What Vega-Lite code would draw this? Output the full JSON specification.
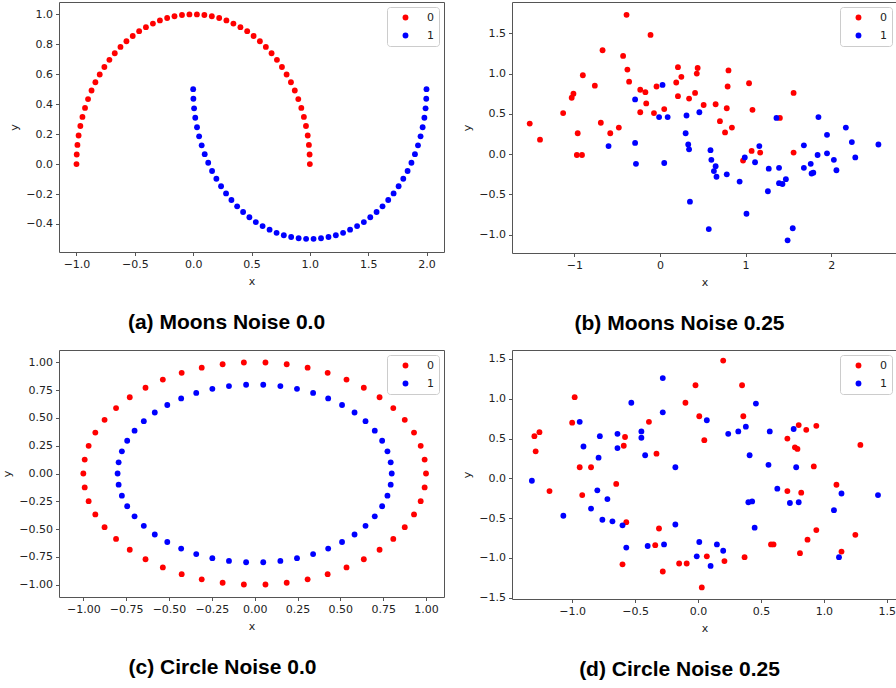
{
"$schema": "https://vega.github.io/schema/vega-lite/v6.json",
"background": "white",
"padding": {"left": 1, "top": 1, "right": 0, "bottom": 0},
"config": {
  "view": {"stroke": "#555", "strokeWidth": 1},
  "font": "DejaVu Sans",
  "axis": {"grid": false, "domain": false, "tickColor": "#555", "tickSize": 3.5, "labelFontSize": 11, "labelColor": "#222", "labelFont": "DejaVu Sans", "titleFont": "DejaVu Sans", "titleFontSize": 11, "titleFontWeight": "normal", "titleColor": "#222", "labelPadding": 3},
  "axisY": {"titlePadding": 6},
  "axisX": {"titlePadding": 6},
  "legend": {"orient": "top-right", "offset": 5, "padding": 5, "symbolSize": 34, "symbolType": "circle", "symbolStrokeWidth": 0, "labelFontSize": 11, "labelFont": "DejaVu Sans", "labelColor": "#222", "labelOffset": 16, "symbolOffset": 8, "rowPadding": 6, "strokeColor": "#ccc", "fillColor": "white", "cornerRadius": 3},
  "title": {"font": "Liberation Sans", "fontSize": 21, "fontWeight": "bold", "color": "#000", "orient": "bottom", "anchor": "middle", "offset": 25}
},
"datasets": {
"moons0": [
{"x":1,"y":0,"c":"0"},{"x":0.998,"y":0.064,"c":"0"},{"x":0.992,"y":0.128,"c":"0"},{"x":0.982,"y":0.191,"c":"0"},{"x":0.967,"y":0.254,"c":"0"},{"x":0.949,"y":0.315,"c":"0"},{"x":0.927,"y":0.375,"c":"0"},{"x":0.901,"y":0.434,"c":"0"},{"x":0.871,"y":0.491,"c":"0"},{"x":0.838,"y":0.546,"c":"0"},{"x":0.801,"y":0.598,"c":"0"},{"x":0.761,"y":0.648,"c":"0"},{"x":0.718,"y":0.696,"c":"0"},{"x":0.672,"y":0.740,"c":"0"},{"x":0.623,"y":0.782,"c":"0"},{"x":0.572,"y":0.820,"c":"0"},{"x":0.518,"y":0.855,"c":"0"},{"x":0.463,"y":0.887,"c":"0"},{"x":0.405,"y":0.914,"c":"0"},{"x":0.345,"y":0.938,"c":"0"},{"x":0.285,"y":0.959,"c":"0"},{"x":0.223,"y":0.975,"c":"0"},{"x":0.160,"y":0.987,"c":"0"},{"x":0.096,"y":0.995,"c":"0"},{"x":0.032,"y":0.999,"c":"0"},
{"x":-0.032,"y":0.999,"c":"0"},{"x":-0.096,"y":0.995,"c":"0"},{"x":-0.160,"y":0.987,"c":"0"},{"x":-0.223,"y":0.975,"c":"0"},{"x":-0.285,"y":0.959,"c":"0"},{"x":-0.345,"y":0.938,"c":"0"},{"x":-0.405,"y":0.914,"c":"0"},{"x":-0.463,"y":0.887,"c":"0"},{"x":-0.518,"y":0.855,"c":"0"},{"x":-0.572,"y":0.820,"c":"0"},{"x":-0.623,"y":0.782,"c":"0"},{"x":-0.672,"y":0.740,"c":"0"},{"x":-0.718,"y":0.696,"c":"0"},{"x":-0.761,"y":0.648,"c":"0"},{"x":-0.801,"y":0.598,"c":"0"},{"x":-0.838,"y":0.546,"c":"0"},{"x":-0.871,"y":0.491,"c":"0"},{"x":-0.901,"y":0.434,"c":"0"},{"x":-0.927,"y":0.375,"c":"0"},{"x":-0.949,"y":0.315,"c":"0"},{"x":-0.967,"y":0.254,"c":"0"},{"x":-0.982,"y":0.191,"c":"0"},{"x":-0.992,"y":0.128,"c":"0"},{"x":-0.998,"y":0.064,"c":"0"},{"x":-1,"y":0,"c":"0"},
{"x":0,"y":0.5,"c":"1"},{"x":0.002,"y":0.436,"c":"1"},{"x":0.008,"y":0.372,"c":"1"},{"x":0.018,"y":0.309,"c":"1"},{"x":0.033,"y":0.246,"c":"1"},{"x":0.051,"y":0.185,"c":"1"},{"x":0.073,"y":0.125,"c":"1"},{"x":0.099,"y":0.066,"c":"1"},{"x":0.129,"y":0.009,"c":"1"},{"x":0.162,"y":-0.046,"c":"1"},{"x":0.199,"y":-0.098,"c":"1"},{"x":0.239,"y":-0.148,"c":"1"},{"x":0.282,"y":-0.196,"c":"1"},{"x":0.328,"y":-0.240,"c":"1"},{"x":0.377,"y":-0.282,"c":"1"},{"x":0.428,"y":-0.320,"c":"1"},{"x":0.482,"y":-0.355,"c":"1"},{"x":0.537,"y":-0.387,"c":"1"},{"x":0.595,"y":-0.414,"c":"1"},{"x":0.655,"y":-0.438,"c":"1"},{"x":0.715,"y":-0.459,"c":"1"},{"x":0.777,"y":-0.475,"c":"1"},{"x":0.840,"y":-0.487,"c":"1"},{"x":0.904,"y":-0.495,"c":"1"},{"x":0.968,"y":-0.499,"c":"1"},
{"x":1.032,"y":-0.499,"c":"1"},{"x":1.096,"y":-0.495,"c":"1"},{"x":1.160,"y":-0.487,"c":"1"},{"x":1.223,"y":-0.475,"c":"1"},{"x":1.285,"y":-0.459,"c":"1"},{"x":1.345,"y":-0.438,"c":"1"},{"x":1.405,"y":-0.414,"c":"1"},{"x":1.463,"y":-0.387,"c":"1"},{"x":1.518,"y":-0.355,"c":"1"},{"x":1.572,"y":-0.320,"c":"1"},{"x":1.623,"y":-0.282,"c":"1"},{"x":1.672,"y":-0.240,"c":"1"},{"x":1.718,"y":-0.196,"c":"1"},{"x":1.761,"y":-0.148,"c":"1"},{"x":1.801,"y":-0.098,"c":"1"},{"x":1.838,"y":-0.046,"c":"1"},{"x":1.871,"y":0.009,"c":"1"},{"x":1.901,"y":0.066,"c":"1"},{"x":1.927,"y":0.125,"c":"1"},{"x":1.949,"y":0.185,"c":"1"},{"x":1.967,"y":0.246,"c":"1"},{"x":1.982,"y":0.309,"c":"1"},{"x":1.992,"y":0.372,"c":"1"},{"x":1.998,"y":0.436,"c":"1"},{"x":2,"y":0.5,"c":"1"}
],
"moons25": [
{"x":-0.39,"y":1.73,"c":"0"},{"x":-0.11,"y":1.48,"c":"0"},{"x":-0.67,"y":1.29,"c":"0"},{"x":-0.43,"y":1.22,"c":"0"},{"x":-0.90,"y":0.98,"c":"0"},{"x":-0.38,"y":1.05,"c":"0"},{"x":-0.36,"y":0.90,"c":"0"},{"x":-0.76,"y":0.85,"c":"0"},{"x":-1.01,"y":0.75,"c":"0"},{"x":-1.03,"y":0.70,"c":"0"},{"x":-0.23,"y":0.80,"c":"0"},{"x":-0.17,"y":0.77,"c":"0"},{"x":-0.04,"y":0.84,"c":"0"},{"x":-0.16,"y":0.63,"c":"0"},{"x":-0.23,"y":0.52,"c":"0"},{"x":-0.07,"y":0.51,"c":"0"},{"x":0.05,"y":0.56,"c":"0"},{"x":-1.13,"y":0.51,"c":"0"},{"x":-1.52,"y":0.38,"c":"0"},{"x":-0.69,"y":0.39,"c":"0"},{"x":-1.40,"y":0.18,"c":"0"},{"x":-0.96,"y":0.26,"c":"0"},{"x":-0.58,"y":0.26,"c":"0"},{"x":-0.48,"y":0.33,"c":"0"},{"x":-0.97,"y":-0.01,"c":"0"},{"x":-0.91,"y":-0.01,"c":"0"},{"x":0.21,"y":1.08,"c":"0"},{"x":0.44,"y":1.07,"c":"0"},{"x":0.43,"y":1.00,"c":"0"},{"x":0.25,"y":0.96,"c":"0"},{"x":0.19,"y":0.89,"c":"0"},{"x":0.21,"y":0.72,"c":"0"},{"x":0.34,"y":0.69,"c":"0"},{"x":0.41,"y":0.76,"c":"0"},{"x":0.51,"y":0.61,"c":"0"},{"x":0.65,"y":0.62,"c":"0"},{"x":0.80,"y":1.04,"c":"0"},{"x":0.79,"y":0.84,"c":"0"},{"x":0.78,"y":0.57,"c":"0"},{"x":0.70,"y":0.41,"c":"0"},{"x":0.84,"y":0.33,"c":"0"},{"x":0.76,"y":0.27,"c":"0"},{"x":1.04,"y":0.88,"c":"0"},{"x":1.08,"y":0.55,"c":"0"},{"x":1.40,"y":0.45,"c":"0"},{"x":1.56,"y":0.76,"c":"0"},{"x":1.07,"y":0.04,"c":"0"},{"x":1.17,"y":0.02,"c":"0"},{"x":0.97,"y":-0.08,"c":"0"},{"x":1.56,"y":0.02,"c":"0"},
{"x":0.03,"y":0.86,"c":"1"},{"x":-0.29,"y":0.68,"c":"1"},{"x":-0.01,"y":0.46,"c":"1"},{"x":0.09,"y":0.46,"c":"1"},{"x":0.31,"y":0.48,"c":"1"},{"x":0.46,"y":0.52,"c":"1"},{"x":-0.60,"y":0.10,"c":"1"},{"x":-0.29,"y":0.14,"c":"1"},{"x":-0.28,"y":-0.12,"c":"1"},{"x":0.05,"y":-0.11,"c":"1"},{"x":0.30,"y":0.26,"c":"1"},{"x":0.33,"y":0.12,"c":"1"},{"x":0.34,"y":0.06,"c":"1"},{"x":0.35,"y":-0.59,"c":"1"},{"x":0.59,"y":0.05,"c":"1"},{"x":0.60,"y":-0.07,"c":"1"},{"x":0.65,"y":-0.15,"c":"1"},{"x":0.63,"y":-0.21,"c":"1"},{"x":0.66,"y":-0.28,"c":"1"},{"x":0.78,"y":-0.25,"c":"1"},{"x":0.57,"y":-0.93,"c":"1"},{"x":0.93,"y":-0.34,"c":"1"},{"x":1.01,"y":-0.74,"c":"1"},{"x":0.99,"y":-0.04,"c":"1"},{"x":1.11,"y":-0.10,"c":"1"},{"x":1.16,"y":0.10,"c":"1"},{"x":1.27,"y":-0.18,"c":"1"},{"x":1.26,"y":-0.46,"c":"1"},{"x":1.36,"y":0.45,"c":"1"},{"x":1.39,"y":-0.17,"c":"1"},{"x":1.39,"y":-0.36,"c":"1"},{"x":1.43,"y":-0.37,"c":"1"},{"x":1.47,"y":-0.31,"c":"1"},{"x":1.49,"y":-1.07,"c":"1"},{"x":1.55,"y":-0.92,"c":"1"},{"x":1.68,"y":0.11,"c":"1"},{"x":1.68,"y":-0.17,"c":"1"},{"x":1.76,"y":-0.12,"c":"1"},{"x":1.77,"y":-0.24,"c":"1"},{"x":1.79,"y":-0.23,"c":"1"},{"x":1.84,"y":-0.01,"c":"1"},{"x":1.85,"y":0.46,"c":"1"},{"x":1.95,"y":0.24,"c":"1"},{"x":1.95,"y":0.01,"c":"1"},{"x":2.03,"y":-0.07,"c":"1"},{"x":2.06,"y":-0.20,"c":"1"},{"x":2.17,"y":0.33,"c":"1"},{"x":2.24,"y":0.15,"c":"1"},{"x":2.28,"y":-0.04,"c":"1"},{"x":2.55,"y":0.12,"c":"1"}
],
"circ0": [
{"x":1,"y":0,"c":"0"},{"x":0.992,"y":0.125,"c":"0"},{"x":0.969,"y":0.249,"c":"0"},{"x":0.930,"y":0.368,"c":"0"},{"x":0.876,"y":0.482,"c":"0"},{"x":0.809,"y":0.588,"c":"0"},{"x":0.729,"y":0.685,"c":"0"},{"x":0.637,"y":0.771,"c":"0"},{"x":0.536,"y":0.844,"c":"0"},{"x":0.426,"y":0.905,"c":"0"},{"x":0.309,"y":0.951,"c":"0"},{"x":0.187,"y":0.982,"c":"0"},{"x":0.063,"y":0.998,"c":"0"},
{"x":-0.063,"y":0.998,"c":"0"},{"x":-0.187,"y":0.982,"c":"0"},{"x":-0.309,"y":0.951,"c":"0"},{"x":-0.426,"y":0.905,"c":"0"},{"x":-0.536,"y":0.844,"c":"0"},{"x":-0.637,"y":0.771,"c":"0"},{"x":-0.729,"y":0.685,"c":"0"},{"x":-0.809,"y":0.588,"c":"0"},{"x":-0.876,"y":0.482,"c":"0"},{"x":-0.930,"y":0.368,"c":"0"},{"x":-0.969,"y":0.249,"c":"0"},{"x":-0.992,"y":0.125,"c":"0"},{"x":-1,"y":0,"c":"0"},
{"x":-0.992,"y":-0.125,"c":"0"},{"x":-0.969,"y":-0.249,"c":"0"},{"x":-0.930,"y":-0.368,"c":"0"},{"x":-0.876,"y":-0.482,"c":"0"},{"x":-0.809,"y":-0.588,"c":"0"},{"x":-0.729,"y":-0.685,"c":"0"},{"x":-0.637,"y":-0.771,"c":"0"},{"x":-0.536,"y":-0.844,"c":"0"},{"x":-0.426,"y":-0.905,"c":"0"},{"x":-0.309,"y":-0.951,"c":"0"},{"x":-0.187,"y":-0.982,"c":"0"},{"x":-0.063,"y":-0.998,"c":"0"},
{"x":0.063,"y":-0.998,"c":"0"},{"x":0.187,"y":-0.982,"c":"0"},{"x":0.309,"y":-0.951,"c":"0"},{"x":0.426,"y":-0.905,"c":"0"},{"x":0.536,"y":-0.844,"c":"0"},{"x":0.637,"y":-0.771,"c":"0"},{"x":0.729,"y":-0.685,"c":"0"},{"x":0.809,"y":-0.588,"c":"0"},{"x":0.876,"y":-0.482,"c":"0"},{"x":0.930,"y":-0.368,"c":"0"},{"x":0.969,"y":-0.249,"c":"0"},{"x":0.992,"y":-0.125,"c":"0"},
{"x":0.8,"y":0,"c":"1"},{"x":0.794,"y":0.100,"c":"1"},{"x":0.775,"y":0.199,"c":"1"},{"x":0.744,"y":0.294,"c":"1"},{"x":0.701,"y":0.385,"c":"1"},{"x":0.647,"y":0.470,"c":"1"},{"x":0.583,"y":0.548,"c":"1"},{"x":0.510,"y":0.616,"c":"1"},{"x":0.429,"y":0.675,"c":"1"},{"x":0.341,"y":0.724,"c":"1"},{"x":0.247,"y":0.761,"c":"1"},{"x":0.150,"y":0.786,"c":"1"},{"x":0.050,"y":0.798,"c":"1"},
{"x":-0.050,"y":0.798,"c":"1"},{"x":-0.150,"y":0.786,"c":"1"},{"x":-0.247,"y":0.761,"c":"1"},{"x":-0.341,"y":0.724,"c":"1"},{"x":-0.429,"y":0.675,"c":"1"},{"x":-0.510,"y":0.616,"c":"1"},{"x":-0.583,"y":0.548,"c":"1"},{"x":-0.647,"y":0.470,"c":"1"},{"x":-0.701,"y":0.385,"c":"1"},{"x":-0.744,"y":0.294,"c":"1"},{"x":-0.775,"y":0.199,"c":"1"},{"x":-0.794,"y":0.100,"c":"1"},{"x":-0.8,"y":0,"c":"1"},
{"x":-0.794,"y":-0.100,"c":"1"},{"x":-0.775,"y":-0.199,"c":"1"},{"x":-0.744,"y":-0.294,"c":"1"},{"x":-0.701,"y":-0.385,"c":"1"},{"x":-0.647,"y":-0.470,"c":"1"},{"x":-0.583,"y":-0.548,"c":"1"},{"x":-0.510,"y":-0.616,"c":"1"},{"x":-0.429,"y":-0.675,"c":"1"},{"x":-0.341,"y":-0.724,"c":"1"},{"x":-0.247,"y":-0.761,"c":"1"},{"x":-0.150,"y":-0.786,"c":"1"},{"x":-0.050,"y":-0.798,"c":"1"},
{"x":0.050,"y":-0.798,"c":"1"},{"x":0.150,"y":-0.786,"c":"1"},{"x":0.247,"y":-0.761,"c":"1"},{"x":0.341,"y":-0.724,"c":"1"},{"x":0.429,"y":-0.675,"c":"1"},{"x":0.510,"y":-0.616,"c":"1"},{"x":0.583,"y":-0.548,"c":"1"},{"x":0.647,"y":-0.470,"c":"1"},{"x":0.701,"y":-0.385,"c":"1"},{"x":0.744,"y":-0.294,"c":"1"},{"x":0.775,"y":-0.199,"c":"1"},{"x":0.794,"y":-0.100,"c":"1"}
],
"circ25": [
{"x":0.20,"y":1.48,"c":"0"},{"x":-0.02,"y":1.17,"c":"0"},{"x":0.35,"y":1.17,"c":"0"},{"x":-0.98,"y":1.02,"c":"0"},{"x":-0.10,"y":0.95,"c":"0"},{"x":-1.00,"y":0.70,"c":"0"},{"x":0.01,"y":0.78,"c":"0"},{"x":0.36,"y":0.78,"c":"0"},{"x":-0.39,"y":0.71,"c":"0"},{"x":-1.30,"y":0.53,"c":"0"},{"x":-1.26,"y":0.58,"c":"0"},{"x":-1.29,"y":0.34,"c":"0"},{"x":-0.58,"y":0.52,"c":"0"},{"x":-0.59,"y":0.41,"c":"0"},{"x":0.05,"y":0.48,"c":"0"},{"x":-0.33,"y":0.31,"c":"0"},{"x":-0.94,"y":0.14,"c":"0"},{"x":-0.85,"y":0.14,"c":"0"},{"x":0.80,"y":0.67,"c":"0"},{"x":0.86,"y":0.61,"c":"0"},{"x":0.94,"y":0.66,"c":"0"},{"x":0.71,"y":0.50,"c":"0"},{"x":0.77,"y":0.39,"c":"0"},{"x":0.79,"y":0.37,"c":"0"},{"x":1.29,"y":0.42,"c":"0"},{"x":0.92,"y":0.15,"c":"0"},{"x":-1.18,"y":-0.16,"c":"0"},{"x":-0.92,"y":-0.21,"c":"0"},{"x":-0.65,"y":-0.07,"c":"0"},{"x":-0.57,"y":-0.55,"c":"0"},{"x":-0.31,"y":-0.63,"c":"0"},{"x":-0.34,"y":-0.84,"c":"0"},{"x":-0.60,"y":-1.08,"c":"0"},{"x":-0.28,"y":-1.17,"c":"0"},{"x":-0.15,"y":-1.07,"c":"0"},{"x":-0.09,"y":-1.07,"c":"0"},{"x":0.07,"y":-0.98,"c":"0"},{"x":0.21,"y":-1.04,"c":"0"},{"x":0.03,"y":-1.37,"c":"0"},{"x":0.37,"y":-0.99,"c":"0"},{"x":0.58,"y":-0.83,"c":"0"},{"x":0.60,"y":-0.83,"c":"0"},{"x":0.71,"y":-0.16,"c":"0"},{"x":0.82,"y":-0.18,"c":"0"},{"x":1.10,"y":-0.08,"c":"0"},{"x":0.94,"y":-0.65,"c":"0"},{"x":0.87,"y":-0.77,"c":"0"},{"x":0.81,"y":-0.94,"c":"0"},{"x":1.14,"y":-0.92,"c":"0"},{"x":1.25,"y":-0.71,"c":"0"},
{"x":-0.28,"y":1.26,"c":"1"},{"x":-0.53,"y":0.95,"c":"1"},{"x":-0.28,"y":0.83,"c":"1"},{"x":0.46,"y":0.94,"c":"1"},{"x":-0.94,"y":0.71,"c":"1"},{"x":0.07,"y":0.73,"c":"1"},{"x":-0.78,"y":0.53,"c":"1"},{"x":-0.64,"y":0.56,"c":"1"},{"x":-0.45,"y":0.59,"c":"1"},{"x":-0.45,"y":0.51,"c":"1"},{"x":-0.64,"y":0.38,"c":"1"},{"x":-0.91,"y":0.40,"c":"1"},{"x":-0.79,"y":0.26,"c":"1"},{"x":-0.42,"y":0.29,"c":"1"},{"x":-0.18,"y":0.14,"c":"1"},{"x":0.24,"y":0.56,"c":"1"},{"x":0.32,"y":0.59,"c":"1"},{"x":0.38,"y":0.65,"c":"1"},{"x":0.41,"y":0.29,"c":"1"},{"x":0.57,"y":0.59,"c":"1"},{"x":0.56,"y":0.17,"c":"1"},{"x":0.76,"y":0.62,"c":"1"},{"x":0.78,"y":0.14,"c":"1"},{"x":-1.32,"y":-0.03,"c":"1"},{"x":-1.07,"y":-0.47,"c":"1"},{"x":-0.80,"y":-0.15,"c":"1"},{"x":-0.72,"y":-0.26,"c":"1"},{"x":-0.85,"y":-0.38,"c":"1"},{"x":-0.76,"y":-0.52,"c":"1"},{"x":-0.68,"y":-0.54,"c":"1"},{"x":-0.60,"y":-0.59,"c":"1"},{"x":-0.57,"y":-0.87,"c":"1"},{"x":-0.40,"y":-0.85,"c":"1"},{"x":-0.27,"y":-0.83,"c":"1"},{"x":-0.18,"y":-0.58,"c":"1"},{"x":0.01,"y":-0.80,"c":"1"},{"x":-0.01,"y":-0.98,"c":"1"},{"x":0.10,"y":-1.10,"c":"1"},{"x":0.15,"y":-0.83,"c":"1"},{"x":0.20,"y":-0.91,"c":"1"},{"x":0.45,"y":-0.62,"c":"1"},{"x":0.40,"y":-0.30,"c":"1"},{"x":0.43,"y":-0.29,"c":"1"},{"x":0.63,"y":-0.13,"c":"1"},{"x":0.73,"y":-0.31,"c":"1"},{"x":0.80,"y":-0.30,"c":"1"},{"x":1.08,"y":-0.40,"c":"1"},{"x":1.14,"y":-0.19,"c":"1"},{"x":1.12,"y":-0.99,"c":"1"},{"x":1.43,"y":-0.21,"c":"1"}
]
},
"resolve": {"scale": {"x": "independent", "y": "independent", "color": "independent"}, "legend": {"color": "independent"}, "axis": {"x": "independent", "y": "independent"}},
"columns": 2,
"align": "none",
"spacing": {"row": 15, "column": 16},
"concat": [
{
"data": {"name": "moons0"},
"width": 385, "height": 250,
"title": {"text": "(a) Moons Noise 0.0", "dx": -25},
"mark": {"type": "circle", "size": 34, "opacity": 1},
"encoding": {
"x": {"field": "x", "type": "quantitative", "scale": {"domain": [-1.15, 2.15], "nice": false, "zero": false}, "axis": {"title": "x", "values": [-1, -0.5, 0, 0.5, 1, 1.5, 2], "format": ".1f"}},
"y": {"field": "y", "type": "quantitative", "scale": {"domain": [-0.587, 1.082], "nice": false, "zero": false}, "axis": {"title": "y", "values": [-0.4, -0.2, 0, 0.2, 0.4, 0.6, 0.8, 1.0], "format": ".1f"}},
"color": {"field": "c", "type": "nominal", "scale": {"domain": ["0", "1"], "range": ["#ff0000", "#0000ff"]}, "legend": {"title": null}}
}
},
{
"data": {"name": "moons25"},
"width": 385, "height": 251,
"title": {"text": "(b) Moons Noise 0.25", "dx": -25},
"mark": {"type": "circle", "size": 34, "opacity": 1},
"encoding": {
"x": {"field": "x", "type": "quantitative", "scale": {"domain": [-1.727, 2.767], "nice": false, "zero": false}, "axis": {"title": "x", "values": [-1, 0, 1, 2], "format": "d"}},
"y": {"field": "y", "type": "quantitative", "scale": {"domain": [-1.227, 1.889], "nice": false, "zero": false}, "axis": {"title": "y", "values": [-1, -0.5, 0, 0.5, 1, 1.5], "format": ".1f"}},
"color": {"field": "c", "type": "nominal", "scale": {"domain": ["0", "1"], "range": ["#ff0000", "#0000ff"]}, "legend": {"title": null}}
}
},
{
"data": {"name": "circ0"},
"width": 385, "height": 247,
"title": {"text": "(c) Circle Noise 0.0", "dx": -29},
"mark": {"type": "circle", "size": 34, "opacity": 1},
"encoding": {
"x": {"field": "x", "type": "quantitative", "scale": {"domain": [-1.142, 1.105], "nice": false, "zero": false}, "axis": {"title": "x", "values": [-1, -0.75, -0.5, -0.25, 0, 0.25, 0.5, 0.75, 1], "format": ".2f"}},
"y": {"field": "y", "type": "quantitative", "scale": {"domain": [-1.11, 1.11], "nice": false, "zero": false}, "axis": {"title": "y", "values": [-1, -0.75, -0.5, -0.25, 0, 0.25, 0.5, 0.75, 1], "format": ".2f"}},
"color": {"field": "c", "type": "nominal", "scale": {"domain": ["0", "1"], "range": ["#ff0000", "#0000ff"]}, "legend": {"title": null}}
}
},
{
"data": {"name": "circ25"},
"width": 385, "height": 249,
"title": {"text": "(d) Circle Noise 0.25", "dx": -25},
"mark": {"type": "circle", "size": 34, "opacity": 1},
"encoding": {
"x": {"field": "x", "type": "quantitative", "scale": {"domain": [-1.478, 1.581], "nice": false, "zero": false}, "axis": {"title": "x", "values": [-1, -0.5, 0, 0.5, 1, 1.5], "format": ".1f"}},
"y": {"field": "y", "type": "quantitative", "scale": {"domain": [-1.516, 1.613], "nice": false, "zero": false}, "axis": {"title": "y", "values": [-1.5, -1, -0.5, 0, 0.5, 1, 1.5], "format": ".1f"}},
"color": {"field": "c", "type": "nominal", "scale": {"domain": ["0", "1"], "range": ["#ff0000", "#0000ff"]}, "legend": {"title": null}}
}
}
]
}
